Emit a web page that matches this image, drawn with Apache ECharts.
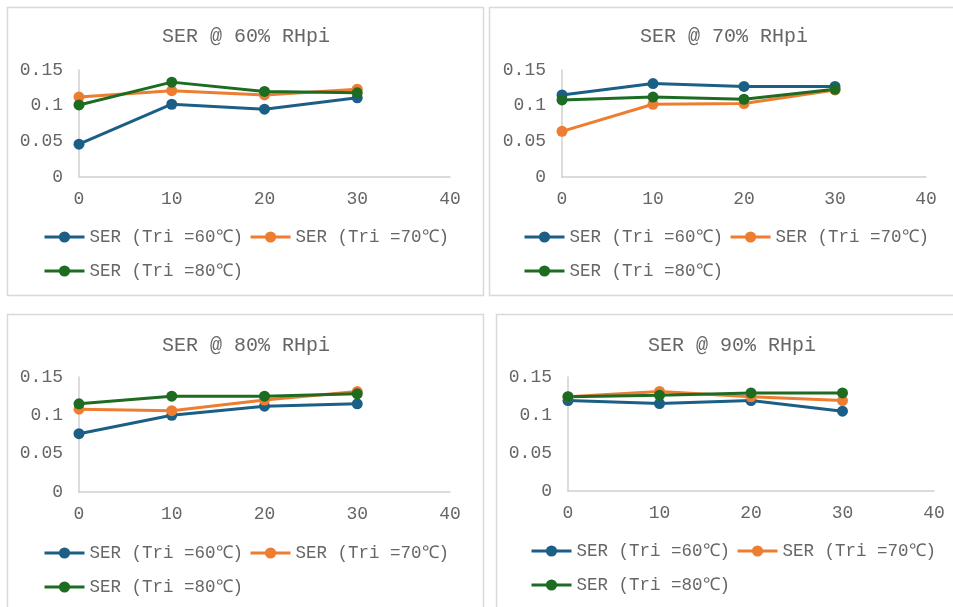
<!DOCTYPE html>
<html>
<head>
<meta charset="utf-8">
<script src="https://cdn.jsdelivr.net/npm/echarts@6/dist/echarts.min.js"></script>
<style>
html,body{margin:0;padding:0;background:#fff;}
#c{width:953px;height:607px;}
</style>
</head>
<body>
<div id="c"></div>
<script>
// ---- data ----
const xValues = [0, 10, 20, 30];
const xTicks = [0, 10, 20, 30, 40];
const yTicks = [0, 0.05, 0.1, 0.15];
const seriesNames = ['SER (Tri =60℃)', 'SER (Tri =70℃)', 'SER (Tri =80℃)'];
const panelTitles = ['SER @ 60% RHpi', 'SER @ 70% RHpi', 'SER @ 80% RHpi', 'SER @ 90% RHpi'];

const rh60_t60 = [0.046, 0.102, 0.095, 0.111];
const rh60_t70 = [0.112, 0.121, 0.115, 0.123];
const rh60_t80 = [0.101, 0.133, 0.120, 0.118];

const rh70_t60 = [0.115, 0.131, 0.127, 0.127];
const rh70_t70 = [0.064, 0.102, 0.103, 0.122];
const rh70_t80 = [0.108, 0.112, 0.109, 0.123];

const rh80_t60 = [0.076, 0.100, 0.112, 0.115];
const rh80_t70 = [0.108, 0.106, 0.120, 0.131];
const rh80_t80 = [0.115, 0.125, 0.125, 0.128];

const rh90_t60 = [0.119, 0.115, 0.119, 0.105];
const rh90_t70 = [0.124, 0.131, 0.124, 0.119];
const rh90_t80 = [0.124, 0.126, 0.129, 0.129];

const panelData = [
  [rh60_t60, rh60_t70, rh60_t80],
  [rh70_t60, rh70_t70, rh70_t80],
  [rh80_t60, rh80_t70, rh80_t80],
  [rh90_t60, rh90_t70, rh90_t80]
];

// ---- styling / layout ----
const colors = ['#1c5f86', '#ed7d31', '#1e6b22'];
const FONT = '"Liberation Mono", "DejaVu Sans Mono", monospace';
const TXT = '#666666';
const layout = [
  {box:[7,7,476,288],   grid:{left:79, top:70, width:371, height:107}, title:[241,33], leg:[43,238]},
  {box:[489,7,470,288], grid:{left:562,top:70, width:364, height:107}, title:[719,33], leg:[523,238]},
  {box:[7,314,476,300], grid:{left:79, top:377,width:371, height:115}, title:[241,342], leg:[43,554]},
  {box:[496,314,470,300],grid:{left:568,top:377,width:366, height:114}, title:[727,342], leg:[530,552]}
];

const grids = [], xAxes = [], yAxes = [], series = [], titles = [], legends = [], graphics = [];
layout.forEach((L, p) => {
  graphics.push({type:'rect', shape:{x:L.box[0]+0.5, y:L.box[1]+0.5, width:L.box[2], height:L.box[3]},
    style:{fill:'#fff', stroke:'#d9d9d9', lineWidth:1.5}, z:-10});
  grids.push(Object.assign({containLabel:false}, L.grid));
  xAxes.push({type:'value', gridIndex:p, min:xTicks[0], max:xTicks[xTicks.length-1], interval:10,
    axisLine:{show:true, onZero:false, lineStyle:{color:'#d0d0d0', width:1.5}},
    axisTick:{show:false}, splitLine:{show:false},
    axisLabel:{color:TXT, fontFamily:FONT, fontSize:18, margin:13}});
  yAxes.push({type:'value', gridIndex:p, min:yTicks[0], max:yTicks[yTicks.length-1], interval:0.05,
    axisLine:{show:true, lineStyle:{color:'#d0d0d0', width:1.5}},
    axisTick:{show:false}, splitLine:{show:false},
    axisLabel:{color:TXT, fontFamily:FONT, fontSize:18, margin:16}});
  titles.push({text:panelTitles[p], left:L.title[0], top:L.title[1]-11, textAlign:'center',
    textStyle:{color:TXT, fontFamily:FONT, fontSize:20, fontWeight:'normal'}});
  panelData[p].forEach((vals, s) => {
    series.push({type:'line', name:seriesNames[s], xAxisIndex:p, yAxisIndex:p,
      data:xValues.map((x,i)=>[x, vals[i]]),
      symbol:'circle', symbolSize:11, color:colors[s],
      lineStyle:{width:3, color:colors[s]}, itemStyle:{color:colors[s]}});
  });
  const common = {orient:'horizontal', itemWidth:40, itemHeight:14, itemGap:6,
    lineStyle:{width:3}, itemStyle:{borderWidth:0},
    textStyle:{color:TXT, fontFamily:FONT, fontSize:17.5}, selectedMode:false, padding:0};
  legends.push(Object.assign({data:[seriesNames[0], seriesNames[1]], left:L.leg[0], top:L.leg[1]-10}, common));
  legends.push(Object.assign({data:[seriesNames[2]], left:L.leg[0], top:L.leg[1]+33-9}, common));
});

const chart = echarts.init(document.getElementById('c'));
chart.setOption({
  animation:false,
  backgroundColor:'#fff',
  title:titles, grid:grids, xAxis:xAxes, yAxis:yAxes, legend:legends, series:series,
  graphic:graphics
});
</script>
</body>
</html>
